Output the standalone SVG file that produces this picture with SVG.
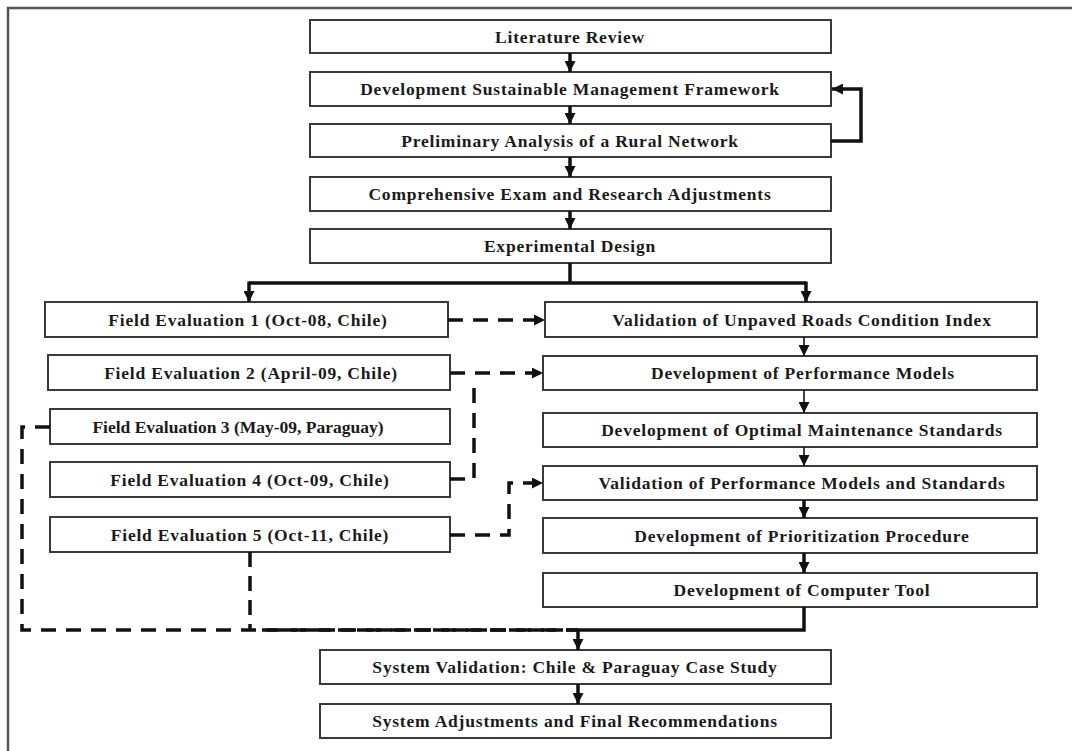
<svg xmlns="http://www.w3.org/2000/svg" width="1072" height="751" viewBox="0 0 1072 751">
  <defs>
    <style>
      .box { fill: #ffffff; stroke: #3a3a3a; stroke-width: 2; }
      .lbl { font-family: "Liberation Serif", "Times New Roman", serif; font-weight: bold; font-size: 17.5px; letter-spacing: 0.8px; fill: #1a1a1a; text-anchor: middle; dominant-baseline: central; }
      .tight { letter-spacing: 0; }
      .solid { fill: none; stroke: #111; stroke-width: 3.5; }
      .thin { fill: none; stroke: #111; stroke-width: 1.6; }
      .dash { fill: none; stroke: #111; stroke-width: 3.5; stroke-dasharray: 15 10; }
      .frame { fill: none; stroke: #555; stroke-width: 2.5; }
    </style>
    <marker id="ah" viewBox="0 0 10 10" refX="10" refY="5" markerWidth="11" markerHeight="11" markerUnits="userSpaceOnUse" orient="auto">
      <path d="M0,0 L10,5 L0,10 Z" fill="#111"/>
    </marker>
  </defs>

  <rect width="1072" height="751" fill="#ffffff"/>
  <!-- page frame (top and left edges) -->
  <path class="frame" d="M8,751 V8 H1072"/>

  <!-- main chain -->
  <g id="n-literature"><rect class="box" x="310" y="20" width="521" height="33"/><text class="lbl" x="570" y="37">Literature Review</text></g>
  <g id="n-framework"><rect class="box" x="310" y="72" width="521" height="34"/><text class="lbl" x="570" y="89">Development Sustainable Management Framework</text></g>
  <g id="n-preliminary"><rect class="box" x="310" y="124" width="521" height="33"/><text class="lbl" x="570" y="141">Preliminary Analysis of a Rural Network</text></g>
  <g id="n-comprehensive"><rect class="box" x="310" y="177" width="521" height="34"/><text class="lbl" x="570" y="194">Comprehensive Exam and Research Adjustments</text></g>
  <g id="n-experimental"><rect class="box" x="310" y="229" width="521" height="34"/><text class="lbl" x="570" y="246">Experimental Design</text></g>

  <!-- field evaluations -->
  <g id="n-fe1"><rect class="box" x="45" y="302" width="403" height="35"/><text class="lbl" x="248" y="320">Field Evaluation 1 (Oct-08, Chile)</text></g>
  <g id="n-fe2"><rect class="box" x="48" y="355" width="402" height="35"/><text class="lbl" x="251" y="373">Field Evaluation 2 (April-09, Chile)</text></g>
  <g id="n-fe3"><rect class="box" x="50" y="409" width="400" height="35"/><text class="lbl tight" x="238" y="427">Field Evaluation 3 (May-09, Paraguay)</text></g>
  <g id="n-fe4"><rect class="box" x="50" y="462" width="400" height="35"/><text class="lbl" x="250" y="480">Field Evaluation 4 (Oct-09, Chile)</text></g>
  <g id="n-fe5"><rect class="box" x="50" y="517" width="400" height="35"/><text class="lbl" x="250" y="535">Field Evaluation 5 (Oct-11, Chile)</text></g>

  <!-- model development column -->
  <g id="n-urci"><rect class="box" x="545" y="302" width="492" height="35"/><text class="lbl" x="802" y="320">Validation of Unpaved Roads Condition Index</text></g>
  <g id="n-perf"><rect class="box" x="543" y="356" width="494" height="34"/><text class="lbl" x="803" y="373">Development of Performance Models</text></g>
  <g id="n-maint"><rect class="box" x="543" y="413" width="494" height="34"/><text class="lbl" x="802" y="430">Development of Optimal Maintenance Standards</text></g>
  <g id="n-valperf"><rect class="box" x="543" y="466" width="494" height="34"/><text class="lbl" x="802" y="483">Validation of Performance Models and Standards</text></g>
  <g id="n-prior"><rect class="box" x="543" y="518" width="494" height="35"/><text class="lbl" x="802" y="536">Development of Prioritization Procedure</text></g>
  <g id="n-tool"><rect class="box" x="543" y="573" width="494" height="34"/><text class="lbl" x="802" y="590">Development of Computer Tool</text></g>

  <!-- final stages -->
  <g id="n-sysval"><rect class="box" x="320" y="650" width="511" height="34"/><text class="lbl" x="575" y="667">System Validation: Chile &amp; Paraguay Case Study</text></g>
  <g id="n-sysadj"><rect class="box" x="320" y="704" width="511" height="34"/><text class="lbl" x="575" y="721">System Adjustments and Final Recommendations</text></g>

  <g id="connectors">
    <!-- main chain -->
    <path class="solid" d="M570,53 V72" marker-end="url(#ah)"/>
    <path class="solid" d="M570,106 V124" marker-end="url(#ah)"/>
    <path class="solid" d="M570,157 V177" marker-end="url(#ah)"/>
    <path class="solid" d="M570,211 V229" marker-end="url(#ah)"/>
    <!-- feedback loop -->
    <path class="solid" d="M831,141 H861 V89 H832" marker-end="url(#ah)"/>
    <!-- split after experimental design -->
    <path class="solid" d="M570,263 V283"/>
    <path class="solid" d="M249,283 H806"/>
    <path class="solid" d="M249,281.5 V302" marker-end="url(#ah)"/>
    <path class="solid" d="M806,281.5 V302" marker-end="url(#ah)"/>

    <!-- right column -->
    <path class="thin" d="M804,337 V356" marker-end="url(#ah)"/>
    <path class="thin" d="M804,390 V413" marker-end="url(#ah)"/>
    <path class="thin" d="M804,447 V466" marker-end="url(#ah)"/>
    <path class="solid" d="M804,500 V518" marker-end="url(#ah)"/>
    <path class="solid" d="M804,553 V573" marker-end="url(#ah)"/>

    <!-- field evaluations feeding the models -->
    <path class="dash" d="M448,320 H545" marker-end="url(#ah)"/>
    <path class="dash" d="M450,373 H543" marker-end="url(#ah)"/>
    <path class="dash" d="M450,479 H474 V382"/>
    <path class="dash" d="M450,535 H509 V483 H543" marker-end="url(#ah)"/>

    <!-- field evaluations feeding the system validation -->
    <path class="dash" d="M50,427 H22 V630 H578"/>
    <path class="dash" d="M250,552 V630" style="stroke-dasharray: 15 9"/>
    <path class="dash" d="M262,630 H578" style="stroke-dasharray: 16 3"/>
    <path class="solid" d="M804,607 V630 H578"/>
    <path class="solid" d="M578,630 V650" marker-end="url(#ah)"/>
    <path class="solid" d="M578,684 V704" marker-end="url(#ah)"/>
  </g>
</svg>
